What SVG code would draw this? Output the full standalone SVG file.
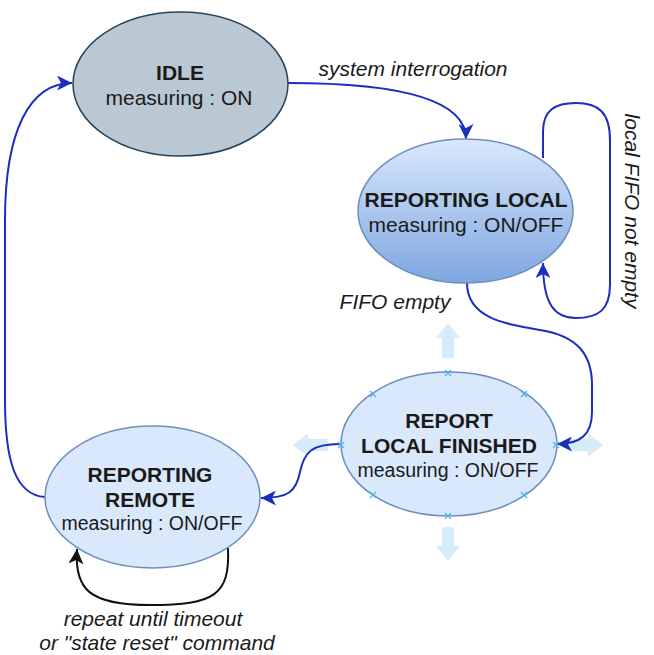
<svg xmlns="http://www.w3.org/2000/svg" width="654" height="655" viewBox="0 0 654 655">
<style>
text{font-family:"Liberation Sans",Arial,sans-serif;fill:#1a1a1a;text-anchor:middle}
.b{font-weight:bold;font-size:21px}
.n{font-size:21px}
.s{font-size:19.5px}
.i{font-style:italic;font-size:21px}
.st{fill:#dae8fc;stroke:#6c8ebf;stroke-width:1.5}
.c{fill:none;stroke:#1c2ec0;stroke-width:2}
.k{fill:none;stroke:#111;stroke-width:2}
.ha{fill:#d6ecfb}
.x{stroke:#4fb6e8;stroke-width:1.3;fill:none}
</style>
<defs>
<linearGradient id="g" x1="0" y1="0" x2="0" y2="1">
<stop offset="0" stop-color="#dae8fc"/>
<stop offset="1" stop-color="#7ea6e0"/>
</linearGradient>
<marker id="a" viewBox="0 0 15 15" refX="15" refY="7.5" markerWidth="15" markerHeight="15" markerUnits="userSpaceOnUse" orient="auto">
<path d="M0,0 L15,7.5 L0,15 L4,7.5 Z" fill="#1c2ec0"/>
</marker>
<marker id="ak" viewBox="0 0 15 15" refX="15" refY="7.5" markerWidth="15" markerHeight="15" markerUnits="userSpaceOnUse" orient="auto">
<path d="M0,0 L15,7.5 L0,15 L4,7.5 Z" fill="#111"/>
</marker>
</defs>

<g id="hover">
<path class="ha" d="M448,323 L460,338 L454,338 L454,358 L442,358 L442,338 L436,338 Z"/>
<path class="ha" d="M448,561 L460,546 L454,546 L454,527 L442,527 L442,546 L436,546 Z"/>
<path class="ha" d="M293,445 L308,433 L308,439 L328,439 L328,451 L308,451 L308,457 Z"/>
<path class="ha" d="M603,445 L588,433 L588,439 L570,439 L570,451 L588,451 L588,457 Z"/>
</g>

<g id="connectors">
<path class="c" d="M288,83 C400,83 466,100 466,139" marker-end="url(#a)"/>
<path class="c" d="M543,158 L543,132 C543,110 555,103 576,103 C598,103 610,112 610,140 L610,285 C610,310 598,318 576,318 C555,318 543,305 543,263" marker-end="url(#a)"/>
<path class="c" d="M467,283 C467,318 505,324 540,330 C578,336 592,355 592,385 L592,412 C592,435 580,444 557,444" marker-end="url(#a)"/>
<path class="c" d="M340,444 C312,444 304,452 300,472 C296,492 288,498 261,498" marker-end="url(#a)"/>
<path class="c" d="M45,497 C15,495 5,460 5,400 L5,220 C5,130 30,83 72,83" marker-end="url(#a)"/>
<path class="k" d="M228,548 C230,595 215,605 150,605 C90,605 74,590 77,549" marker-end="url(#ak)"/>
<text class="i" x="413" y="76">system interrogation</text>
<text class="i" x="395" y="309">FIFO empty</text>
<text class="i" transform="translate(625,211) rotate(90)" x="0" y="0">local FIFO not empty</text>
<text class="i" x="153" y="626">repeat until timeout</text>
<text class="i" x="157" y="650">or "state reset" command</text>
</g>

<g id="idle">
<ellipse cx="180.5" cy="84" rx="107.5" ry="72" fill="#bac8d3" stroke="#23445d" stroke-width="1.5"/>
<text class="b" x="180" y="79.5">IDLE</text>
<text class="n" x="179" y="104.5">measuring : ON</text>
</g>

<g id="reporting-local">
<ellipse cx="465.5" cy="211" rx="107.5" ry="72" fill="url(#g)" stroke="#6c8ebf" stroke-width="1.5"/>
<text class="b" x="466" y="207">REPORTING LOCAL</text>
<text class="n" x="466" y="232">measuring : ON/OFF</text>
</g>

<g id="report-local-finished">
<ellipse class="st" cx="449" cy="444" rx="108" ry="72"/>
<text class="b" x="449" y="427.5">REPORT</text>
<text class="b" x="449" y="452.5">LOCAL FINISHED</text>
<text class="s" x="448" y="476.5">measuring : ON/OFF</text>
<g class="x">
<path d="M445,370 l6,6 m0,-6 l-6,6"/>
<path d="M370,391 l6,6 m0,-6 l-6,6"/>
<path d="M521,391 l6,6 m0,-6 l-6,6"/>
<path d="M338,442 l6,6 m0,-6 l-6,6"/>
<path d="M553,442 l6,6 m0,-6 l-6,6"/>
<path d="M370,492 l6,6 m0,-6 l-6,6"/>
<path d="M521,492 l6,6 m0,-6 l-6,6"/>
<path d="M445,513 l6,6 m0,-6 l-6,6"/>
</g>
</g>

<g id="reporting-remote">
<ellipse class="st" cx="152.5" cy="497" rx="107.5" ry="71"/>
<text class="b" x="150" y="481.5">REPORTING</text>
<text class="b" x="150" y="507">REMOTE</text>
<text class="s" x="152" y="530">measuring : ON/OFF</text>
</g>
</svg>
